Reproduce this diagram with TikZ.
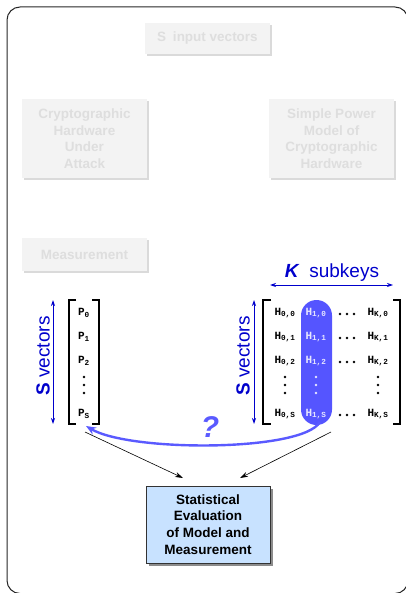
\documentclass[tikz,border=0pt]{standalone}
\usepackage{fontspec}
\setmainfont{Liberation Sans}
\newfontfamily\monof{Liberation Mono}
\usetikzlibrary{arrows.meta,shadows}
\definecolor{ghostfill}{HTML}{F3F3F3}
\definecolor{ghosttext}{HTML}{DEDEDE}
\definecolor{ghostshadow}{HTML}{DADADA}
\definecolor{lblblue}{HTML}{0000CC}
\definecolor{pillblue}{HTML}{5555FF}
\definecolor{curveblue}{HTML}{5A5AFF}
\definecolor{pilltext}{HTML}{E6E6FF}
\definecolor{statfill}{HTML}{C8E2FF}
\newcommand\ent[2]{{\monof\bfseries #1\textsubscript{#2}}}
\newcommand\fsz[2]{\fontsize{#1}{#2}\selectfont}
\begin{document}
\begin{tikzpicture}[x=1pt,y=-1pt,
  ghost/.style={fill=ghostfill, text=ghosttext, font=\fsz{13.5}{16.5}\bfseries, align=center,
    inner sep=0pt, minimum width=125pt,
    drop shadow={shadow xshift=2pt, shadow yshift=-2pt, fill=ghostshadow, opacity=1}},
  statbox/.style={fill=statfill, draw=black!80, line width=0.9pt, font=\fsz{13.5}{16.7}\bfseries,
    align=center, inner sep=0pt, minimum width=124pt, minimum height=77pt,
    drop shadow={shadow xshift=3pt, shadow yshift=-3pt, fill=black!45, opacity=1}},
  entry/.style={inner sep=0pt, font=\fsz{11}{13}},
  brk/.style={line width=2pt},
  lbl/.style={text=lblblue, font=\fsz{19}{22}},
  blarrow/.style={lblblue, line width=0.8pt, {Stealth[length=6pt,width=4pt]}-{Stealth[length=6pt,width=4pt]}},
  conn/.style={black, line width=0.6pt, -{Stealth[length=8pt,width=5pt]}}
]
\useasboundingbox (0,0) rectangle (406,593);
\clip (0,0) rectangle (406,593);
% outer frame
\draw[line width=1pt, black!85, rounded corners=13pt] (7,7) rectangle (408,593.5);

% faded boxes
\node[ghost, minimum height=31pt] (inp) at (207.5,38.5) {S\enspace input vectors};
\node[ghost, minimum height=79pt] (hw) at (84.5,138.5) {Cryptographic\\Hardware\\Under\\Attack};
\node[ghost, minimum height=79pt] (model) at (331.5,138.5) {Simple Power\\Model of\\Cryptographic\\Hardware};
\node[ghost, minimum height=33pt] (meas) at (84.5,254.5) {Measurement};

% left matrix
\draw[brk] (76,300) -- (69,300) -- (69,424) -- (76,424);
\draw[brk] (92,300) -- (99,300) -- (99,424) -- (92,424);
\node[entry] (p0) at (84,313) {\ent{P}{0}};
\node[entry] (p1) at (84,337) {\ent{P}{1}};
\node[entry] (p2) at (84,361) {\ent{P}{2}};
\foreach \yy in {377,385,393} \fill (84,\yy) circle (1.3pt);
\node[entry] (ps) at (84,414) {\ent{P}{S}};
\coordinate (ltop) at (53,300);
\coordinate (lbot) at (53,424);
\draw[blarrow] (lbot) -- (ltop);
\node[lbl, rotate=90] (lsv) at (43,356) {\textbf{S} vectors};

% right matrix
\fill[pillblue, rounded corners=15.5pt] (301,300) rectangle (332,425);
\draw[brk] (271,300) -- (263,300) -- (263,424) -- (271,424);
\draw[brk] (393,300) -- (400,300) -- (400,424) -- (393,424);
\foreach \r/\yy/\s in {0/313/0,1/337/1,2/361/2,S/414/S}{
  \node[entry] (h0\r) at (285,\yy) {\ent{H}{0,\s}};
  \node[entry, text=pilltext] (h1\r) at (316,\yy) {\ent{H}{1,\s}};
  \node[entry] (hk\r) at (378,\yy) {\ent{H}{K,\s}};
  \foreach \xx in {340,347,354} \fill (\xx,\yy+1) circle (1.3pt);
}
\foreach \yy in {377,385,393}{
  \fill (285,\yy) circle (1.3pt);
  \fill[pilltext] (316,\yy) circle (1.3pt);
  \fill (378,\yy) circle (1.3pt);
}
\coordinate (rtop) at (254,300);
\coordinate (rbot) at (254,424);
\draw[blarrow] (rbot) -- (rtop);
\node[lbl, rotate=90] (rsv) at (243,356) {\textbf{S} vectors};
\coordinate (kl) at (270,285);
\coordinate (kr) at (393,285);
\draw[blarrow] (kl) -- (kr);
\node[lbl] (ksub) at (332,273) {\textbf{\textit{K}}\enspace subkeys};

% question curve
\coordinate (pillbot) at (320,422);
\coordinate (pend) at (86,426);
\draw[curveblue, line width=2.4pt, -{Stealth[length=10pt,width=8pt]}]
  (pillbot) .. controls (302,452) and (130,452) .. (pend);
\node[text=curveblue, font=\fsz{30}{32}\bfseries\itshape] (q) at (210,427) {?};

% statistical evaluation
\node[statbox] (stat) at (208,524.5) {Statistical\\Evaluation\\of Model and\\Measurement};
\coordinate (pout) at (85,432);
\coordinate (hout) at (331,432);
\coordinate (sinl) at (183,478);
\coordinate (sinr) at (240,478);
\draw[conn] (pout) -- (sinl);
\draw[conn] (hout) -- (sinr);
\end{tikzpicture}
\end{document}
